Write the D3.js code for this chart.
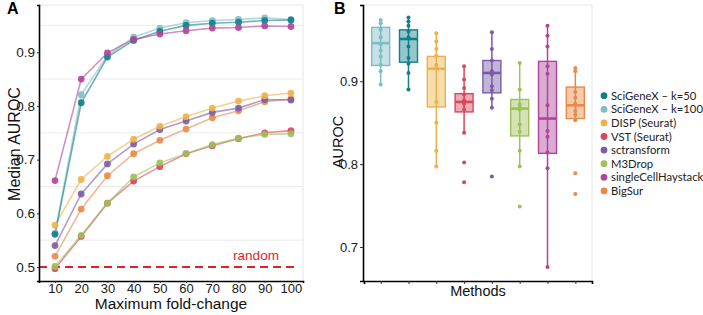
<!DOCTYPE html>
<html><head><meta charset="utf-8">
<script src="https://cdn.jsdelivr.net/npm/d3@7"></script>
<style>body{margin:0;background:#fff}svg{display:block}</style>
</head><body>
<svg id="c" width="703" height="315"></svg>
<script>
// ---------- Data ----------
const foldChange = [10,20,30,40,50,60,70,80,90,100];
const methods = ["SciGeneX – k=50","SciGeneX – k=100","DISP (Seurat)","VST (Seurat)","sctransform","M3Drop","singleCellHaystack","BigSur"];
const colors = ["#11808b","#7fbcc6","#eeb14b","#d8475a","#7b5ba7","#9dc25a","#b0449b","#e78a4a"];
// Panel A: median AUROC per fold change
const sciK50   = [0.561,0.806,0.891,0.922,0.939,0.950,0.954,0.956,0.959,0.960];
const sciK100  = [0.563,0.821,0.894,0.928,0.945,0.955,0.959,0.961,0.964,0.961];
const disp     = [0.578,0.663,0.706,0.738,0.762,0.780,0.796,0.809,0.819,0.824];
const vst      = [0.497,0.557,0.619,0.660,0.687,0.711,0.726,0.739,0.750,0.754];
const sctr     = [0.540,0.636,0.692,0.729,0.756,0.772,0.788,0.796,0.812,0.811];
const m3drop   = [0.501,0.559,0.619,0.668,0.694,0.711,0.728,0.740,0.747,0.748];
const haystack = [0.661,0.850,0.899,0.924,0.934,0.940,0.945,0.946,0.949,0.948];
const bigsur   = [0.520,0.608,0.670,0.711,0.736,0.757,0.778,0.791,0.808,0.813];
const seriesA = [vst, m3drop, bigsur, sctr, disp, sciK100, sciK50, haystack];
const seriesAIdx = [3,5,7,4,2,1,0,6];
const yTicksA = [0.5,0.6,0.7,0.8,0.9];
const yGridA = [0.55,0.65,0.75,0.85,0.95];
const randomLevel = 0.5;
// Panel B: per-method AUROC points and box stats [low whisker, q1, median, q3, high whisker]
const boxOrder = [1,0,2,3,4,5,6,7];
const ptsK100  = [0.974,0.970,0.962,0.953,0.945,0.937,0.930,0.920,0.912,0.896];
const ptsK50   = [0.977,0.972,0.967,0.960,0.953,0.942,0.928,0.910,0.890,0.921];
const ptsDisp  = [0.958,0.948,0.939,0.931,0.920,0.916,0.875,0.850,0.816,0.797];
const ptsVst   = [0.918,0.902,0.892,0.884,0.877,0.873,0.866,0.838,0.802,0.778];
const ptsSctr  = [0.959,0.939,0.925,0.912,0.908,0.894,0.889,0.879,0.868,0.785];
const ptsM3    = [0.922,0.890,0.872,0.868,0.866,0.848,0.839,0.816,0.797,0.749];
const ptsHay   = [0.967,0.955,0.942,0.918,0.909,0.871,0.840,0.833,0.814,0.795,0.676];
const ptsBig   = [0.916,0.912,0.887,0.880,0.873,0.864,0.860,0.853,0.789,0.764];
const statsK100 = [0.896,0.919,0.946,0.965,0.974];
const statsK50  = [0.890,0.923,0.951,0.962,0.977];
const statsDisp = [0.797,0.869,0.915,0.930,0.958];
const statsVst  = [0.838,0.863,0.875,0.885,0.918];
const statsSctr = [0.868,0.886,0.910,0.925,0.959];
const statsM3   = [0.797,0.834,0.867,0.878,0.922];
const statsHay  = [0.676,0.813,0.855,0.924,0.967];
const statsBig  = [0.853,0.855,0.871,0.893,0.916];
const pointsB = [ptsK100,ptsK50,ptsDisp,ptsVst,ptsSctr,ptsM3,ptsHay,ptsBig];
const statsB = [statsK100,statsK50,statsDisp,statsVst,statsSctr,statsM3,statsHay,statsBig];
const yTicksB = [0.7,0.8,0.9];

// ---------- Drawing ----------
const svg = d3.select("#c");
const FONT = "Liberation Sans, Arial, sans-serif";

// ===== Panel A =====
const xA = d3.scaleLinear().domain([3.9,104.6]).range([39,303]);
const yA = d3.scaleLinear().domain([0.474,0.988]).range([281,5]);
const gA = svg.append("g");
gA.selectAll("line.grid").data(yGridA).enter().append("line")
  .attr("x1",39).attr("x2",303).attr("y1",d=>yA(d)).attr("y2",d=>yA(d))
  .attr("stroke","#ececec").attr("stroke-width",1);
gA.append("path").attr("d",`M39,5H303V281`).attr("fill","none").attr("stroke","#e6e6e6");
gA.append("line").attr("x1",39).attr("x2",298).attr("y1",yA(randomLevel)).attr("y2",yA(randomLevel))
  .attr("stroke","#e41f26").attr("stroke-width",2).attr("stroke-dasharray","8,5");
gA.append("text").attr("x",256).attr("y",yA(randomLevel)-7).attr("text-anchor","middle")
  .attr("font-family",FONT).attr("font-size",13.5).attr("fill","#e41f26").text("random");
const lineA = d3.line().x((d,i)=>xA(foldChange[i])).y(d=>yA(d));
seriesA.forEach((s,k)=>{
  const c = colors[seriesAIdx[k]];
  gA.append("path").attr("d",lineA(s)).attr("fill","none").attr("stroke",c)
    .attr("stroke-width",1.6).attr("stroke-opacity",0.6);
});
seriesA.forEach((s,k)=>{
  const c = colors[seriesAIdx[k]];
  gA.selectAll(null).data(s).enter().append("circle")
    .attr("cx",(d,i)=>xA(foldChange[i])).attr("cy",d=>yA(d)).attr("r",3.4)
    .attr("fill",c).attr("fill-opacity",0.9);
});
const axA_y = gA.append("g").attr("transform","translate(39,0)")
  .call(d3.axisLeft(yA).tickValues(yTicksA).tickSize(2).tickPadding(2).tickFormat(d3.format(".1f")));
const axA_x = gA.append("g").attr("transform","translate(0,281)")
  .call(d3.axisBottom(xA).tickValues(foldChange).tickSize(2).tickPadding(1));
[axA_y,axA_x].forEach(a=>{
  a.select(".domain").attr("stroke","#000").attr("stroke-width",1.6);
  a.selectAll(".tick line").attr("stroke","#333");
  a.selectAll("text").attr("font-family",FONT).attr("font-size",13.5).attr("fill","#1a1a1a");
});
axA_x.selectAll("text").attr("font-size",13);
gA.append("text").attr("x",171).attr("y",309).attr("text-anchor","middle")
  .attr("font-family",FONT).attr("font-size",15.5).attr("fill","#111").text("Maximum fold-change");
gA.append("text").attr("transform","translate(20,144) rotate(-90)").attr("text-anchor","middle")
  .attr("font-family",FONT).attr("font-size",16).attr("fill","#111").text("Median AUROC");
svg.append("text").attr("x",7).attr("y",14).attr("font-family",FONT).attr("font-weight","bold")
  .attr("font-size",16).text("A");

// ===== Panel B =====
const xB = d3.scalePoint().domain(boxOrder.map(i=>methods[i])).range([364,592]).padding(0.6);
const yB = d3.scaleLinear().domain([0.659,0.992]).range([281,5]);
const gB = svg.append("g");
gB.append("path").attr("d",`M363,5H592V281`).attr("fill","none").attr("stroke","#e6e6e6");
const bw = 18;
boxOrder.forEach((mi,k)=>{
  const name = methods[mi], c = colors[mi], st = statsB[k], cx = xB(name);
  const g = gB.append("g");
  g.append("line").attr("x1",cx).attr("x2",cx).attr("y1",yB(st[0])).attr("y2",yB(st[4]))
    .attr("stroke",c).attr("stroke-width",1.5);
  g.append("rect").attr("x",cx-bw/2).attr("width",bw).attr("y",yB(st[3])).attr("height",yB(st[1])-yB(st[3]))
    .attr("fill",c).attr("fill-opacity",0.45).attr("stroke",c).attr("stroke-width",1.4);
  g.append("line").attr("x1",cx-bw/2).attr("x2",cx+bw/2).attr("y1",yB(st[2])).attr("y2",yB(st[2]))
    .attr("stroke",c).attr("stroke-width",2.6);
  g.selectAll("circle").data(pointsB[k]).enter().append("circle")
    .attr("cx",cx).attr("cy",d=>yB(d)).attr("r",2).attr("fill",c);
});
const axB_y = gB.append("g").attr("transform","translate(363,0)")
  .call(d3.axisLeft(yB).tickValues(yTicksB).tickSize(3).tickPadding(2).tickFormat(d3.format(".1f")));
const axB_x = gB.append("g").attr("transform","translate(0,281)")
  .call(d3.axisBottom(xB).tickSize(3).tickFormat(""));
[axB_y,axB_x].forEach(a=>{
  a.select(".domain").attr("stroke","#000").attr("stroke-width",1.6);
  a.selectAll(".tick line").attr("stroke","#333");
  a.selectAll("text").attr("font-family",FONT).attr("font-size",13).attr("fill","#1a1a1a");
});
gB.append("text").attr("x",478).attr("y",296).attr("text-anchor","middle")
  .attr("font-family",FONT).attr("font-size",14.5).attr("fill","#111").text("Methods");
gB.append("text").attr("transform","translate(343,142) rotate(-90)").attr("text-anchor","middle")
  .attr("font-family",FONT).attr("font-size",14.5).attr("fill","#111").text("AUROC");
svg.append("text").attr("x",334).attr("y",14).attr("font-family",FONT).attr("font-weight","bold")
  .attr("font-size",16).text("B");

// legend
const leg = svg.append("g");
methods.forEach((m,i)=>{
  const y = 95.7 + i*13.6;
  leg.append("circle").attr("cx",604).attr("cy",y).attr("r",3.4).attr("fill",colors[i]);
  leg.append("text").attr("x",611).attr("y",y+4).attr("font-family","Lato, sans-serif")
    .attr("font-size",11.3).attr("fill","#222").text(m);
});
</script>
</body></html>
